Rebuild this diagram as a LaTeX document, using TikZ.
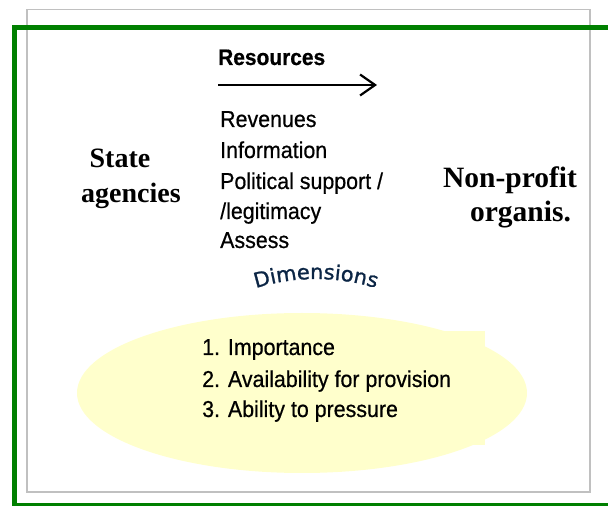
\documentclass[tikz,border=0pt]{standalone}
\usepackage{fontspec}
\setmainfont{Liberation Serif}
\newfontfamily\arialfam[FakeStretch=0.93,FakeBold=0.6]{Liberation Sans}
\newfontfamily\dimfamily[FakeStretch=1.02,FakeBold=1.2]{DejaVu Sans}
\usetikzlibrary{arrows.meta,decorations.text}
\definecolor{frgreen}{HTML}{008000}
\definecolor{frgray}{HTML}{C0C0C0}
\definecolor{ellyellow}{HTML}{FFFFCC}
\definecolor{dimnavy}{HTML}{0B2545}
\newcommand\dimfmt{\dimfamily\fontsize{20.5}{20.5}\selectfont\color{dimnavy}}
\begin{document}
\begin{tikzpicture}[x=1pt,y=1pt,
  graybox/.style={draw=frgray,line width=1.5pt},
  greenbox/.style={draw=frgreen,line width=5pt},
  yellowfill/.style={fill=ellyellow},
  listtext/.style={anchor=base west,inner sep=0pt,font=\arialfam\fontsize{23}{23}\selectfont},
  headtext/.style={anchor=base west,inner sep=0pt,font=\arialfam\bfseries\fontsize{22.5}{22.5}\selectfont},
  sidetext/.style={anchor=base,inner sep=0pt,font=\bfseries\fontsize{28}{28}\selectfont},
  sidetextb/.style={anchor=base,inner sep=0pt,font=\bfseries\fontsize{29.5}{29.5}\selectfont},
  resarrow/.style={line width=2.2pt,-{Straight Barb[length=15pt,width=21pt,line width=2.2pt]}}]
\useasboundingbox (0,0) rectangle (608,506);
\clip (0,0) rectangle (608,506);
\draw[graybox] (27,496.5) rectangle (590,14);
\draw[greenbox] (14,0.5) rectangle (620,478.5);
\fill[yellowfill] (302,113) ellipse [x radius=225, y radius=80];
\fill[yellowfill] (440,175) rectangle (485,61);
% resources
\node[headtext] (res) at (218,441) {Resources};
\coordinate (a1) at (218,421);
\coordinate (a2) at (377,421);
\draw[resarrow] (a1) -- (a2);
\node[listtext] (l1) at (220,379) {Revenues};
\node[listtext] (l2) at (220,348) {Information};
\node[listtext] (l3) at (220,317) {Political support /};
\node[listtext] (l4) at (220,287) {/legitimacy};
\node[listtext] (l5) at (220,258) {Assess};
% sides
\node[sidetext] (s1) at (120,338) {State};
\node[sidetext] (s2) at (131,303) {agencies};
\node[sidetextb] (n1) at (510,318) {Non-profit};
\node[sidetextb] (n2) at (520.5,284) {organis.};
% dimensions
\path[decorate,decoration={text along path,text align=center,text={|\dimfmt|Dimensions}}]
  (316,25) ++(108.8:202) arc[start angle=108.8,end angle=71.2,radius=202];
% items
\node[listtext] (d1) at (202,151) {1. Importance};
\node[listtext] (d2) at (202,119) {2. Availability for provision};
\node[listtext] (d3) at (202,89) {3. Ability to pressure};
\end{tikzpicture}
\end{document}
